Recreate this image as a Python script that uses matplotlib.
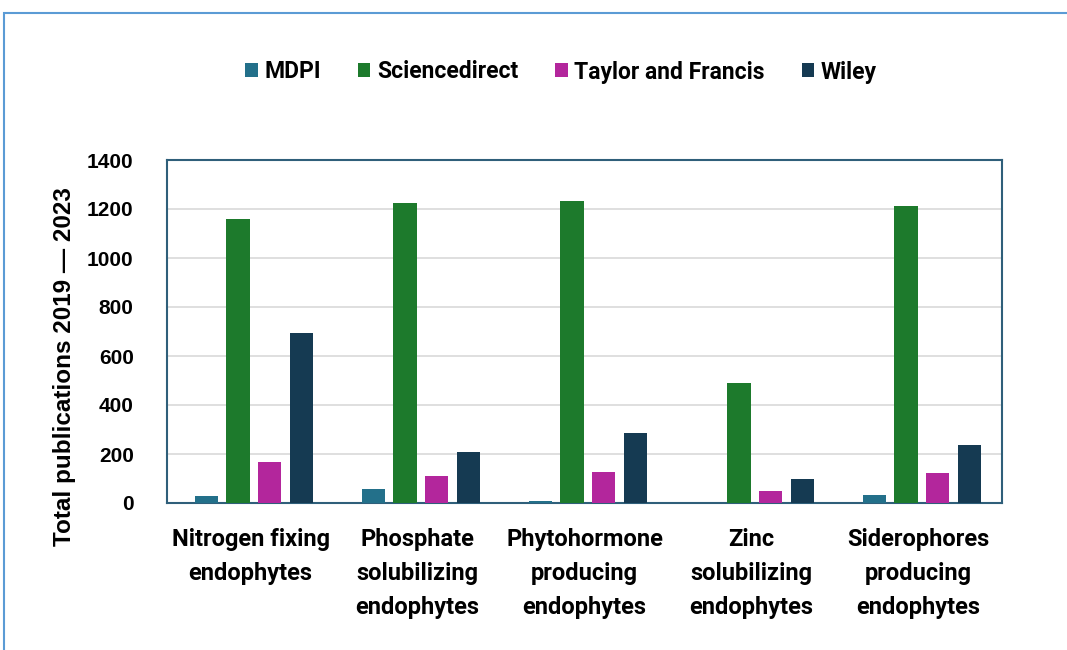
import numpy as np
import matplotlib.pyplot as plt
from matplotlib.patches import Rectangle

# Datos
categorias = ['Nitrogen fixing\nendophytes', 'Phosphate\nsolubilizing\nendophytes',
              'Phytohormone\nproducing\nendophytes', 'Zinc\nsolubilizing\nendophytes',
              'Siderophores\nproducing\nendophytes']
series = ['MDPI', 'Sciencedirect', 'Taylor and Francis', 'Wiley']
mdpi = [30, 58, 10, 2, 34]
sciencedirect = [1158, 1223, 1234, 491, 1212]
taylor = [167, 110, 126, 50, 121]
wiley = [695, 209, 284, 97, 235]
colores = ['#23708a', '#1d7a2c', '#b3269c', '#153a52']
yticks = [0, 200, 400, 600, 800, 1000, 1200, 1400]

valores = [mdpi, sciencedirect, taylor, wiley]

fig = plt.figure(figsize=(10.67, 6.5), dpi=100)
ax = fig.add_axes([167/1067, 1 - 503/650, (1002 - 167)/1067, (503 - 160)/650])

x = np.arange(len(categorias))
paso = 0.19
ancho = 0.14
for k, (nombre, vals, col) in enumerate(zip(series, valores, colores)):
    ax.bar(x + (k - 1.5) * paso + 0.02, vals, width=ancho, color=col, label=nombre, zorder=3)

ax.set_xlim(-0.5, len(categorias) - 0.5)
ax.set_ylim(0, 1400)
ax.set_yticks(yticks)
ax.set_yticklabels([str(v) for v in yticks], fontsize=15, fontweight='bold', family='Liberation Sans')
ax.tick_params(axis='y', length=0, pad=24)
ax.set_xticks(x)
ax.set_xticklabels(categorias, fontsize=17, fontweight='bold', family='Roboto',
                   linespacing=1.62)
ax.tick_params(axis='x', length=0, pad=18)
ax.yaxis.grid(True, color='#d9d9d9', linewidth=1.2, zorder=0)
for s in ax.spines.values():
    s.set_color('#2f5f7a')
    s.set_linewidth(1.5)

fig.text(65/1067, 1 - 367/650, 'Total publications 2019 — 2023', rotation=90,
         ha='center', va='center', fontsize=17.5, fontweight='bold', family='Liberation Sans')

fig.legend(loc='center', bbox_to_anchor=(561/1067, 1 - 72/650), ncol=4, frameon=False,
           prop={'family': 'Roboto', 'weight': 'bold', 'size': 16.5},
           handlelength=0.55, handleheight=0.55, handletextpad=0.3, columnspacing=1.6)

# marco exterior azul
fig.patches.append(Rectangle((4/1067, -0.1), 1.2, 1 - 13/650 + 0.1, transform=fig.transFigure,
                             fill=False, edgecolor='#5b9bd5', linewidth=1.5))

fig.savefig('out.png', dpi=100)
